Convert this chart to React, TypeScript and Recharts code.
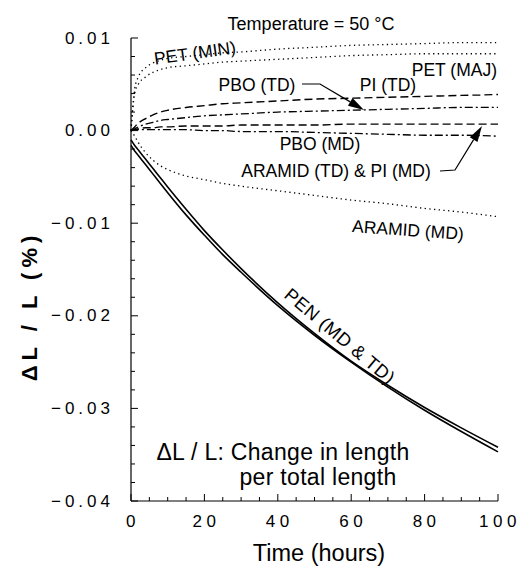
import { LineChart, Line, XAxis, YAxis } from 'recharts'

const hours = [0, 1, 2, 4, 6, 8, 10, 15, 20, 25, 30, 40, 50, 60, 70, 80, 90, 100]

const petMin = [0, 0.0045, 0.0058, 0.0068, 0.0073, 0.0076, 0.0078, 0.008, 0.0082, 0.0084, 0.0085, 0.0088, 0.009, 0.0092, 0.0093, 0.0094, 0.0095, 0.0095]
const petMaj = [0, 0.004, 0.005, 0.0058, 0.0063, 0.0066, 0.0068, 0.007, 0.0072, 0.0074, 0.0075, 0.0077, 0.0079, 0.0081, 0.0082, 0.0083, 0.0083, 0.0083]
const piTD = [0, 0.0004, 0.0008, 0.0013, 0.0017, 0.002, 0.0022, 0.0025, 0.0027, 0.0029, 0.003, 0.0032, 0.0034, 0.0035, 0.0036, 0.0037, 0.0038, 0.0039]
const pboTD = [0, 0.0002, 0.0004, 0.0007, 0.0009, 0.0011, 0.0012, 0.0014, 0.0016, 0.0017, 0.0018, 0.002, 0.0021, 0.0022, 0.0023, 0.0024, 0.0025, 0.0025]
const aramidTDpiMD = [0, 0.0001, 0.0002, 0.0003, 0.0003, 0.0004, 0.0004, 0.0005, 0.0005, 0.0005, 0.0006, 0.0006, 0.0006, 0.0007, 0.0007, 0.0007, 0.0007, 0.0007]
const pboMD = [0, 0.0001, 0.0001, 0.0001, 0.0001, 0.0001, 0.0001, 0.0001, 0, 0, -0.0001, -0.0001, -0.0002, -0.0003, -0.0004, -0.0005, -0.0005, -0.0006]
const aramidMD = [0, -0.0006, -0.0013, -0.0024, -0.0032, -0.0038, -0.0042, -0.0049, -0.0053, -0.0057, -0.006, -0.0065, -0.007, -0.0075, -0.0079, -0.0084, -0.0088, -0.0093]
const penMD = [-0.001, -0.0016, -0.0021, -0.0031, -0.0041, -0.0051, -0.0061, -0.0085, -0.0108, -0.0129, -0.0149, -0.0186, -0.0219, -0.0249, -0.0275, -0.0299, -0.0321, -0.0342]
const penTD = [-0.0016, -0.0022, -0.0027, -0.0037, -0.0047, -0.0057, -0.0067, -0.0091, -0.0113, -0.0134, -0.0153, -0.0189, -0.0221, -0.025, -0.0277, -0.0302, -0.0325, -0.0347]

const xMajor = [0, 20, 40, 60, 80, 100]
const xTicks = [0, 5, 10, 15, 20, 25, 30, 35, 40, 45, 50, 55, 60, 65, 70, 75, 80, 85, 90, 95, 100]
const yMajor = [0.01, 0, -0.01, -0.02, -0.03, -0.04]
const yLabels = ['0.01', '0.00', '\u22120.01', '\u22120.02', '\u22120.03', '\u22120.04']
const yTicks = [0.01, 0.008, 0.006, 0.004, 0.002, 0, -0.002, -0.004, -0.006, -0.008, -0.01, -0.012, -0.014, -0.016, -0.018, -0.02, -0.022, -0.024, -0.026, -0.028, -0.03, -0.032, -0.034, -0.036, -0.038, -0.04]

const data = hours.map((t, i) => ({
  t,
  petMin: petMin[i],
  petMaj: petMaj[i],
  piTD: piTD[i],
  pboTD: pboTD[i],
  aramidTDpiMD: aramidTDpiMD[i],
  pboMD: pboMD[i],
  aramidMD: aramidMD[i],
  penMD: penMD[i],
  penTD: penTD[i],
}))

const FONT = '"Liberation Sans", Arial, Helvetica, sans-serif'
const DOT = '1.3 3.4'
const DASH = '8 4'
const DASHDOT = '8 3 2 3'

function YTick({ x, y, payload }: any) {
  const i = yMajor.findIndex((v) => Math.abs(v - payload.value) < 1e-9)
  const major = i >= 0
  return (
    <g>
      <line x1={x} y1={y} x2={x + (major ? 7 : 4)} y2={y} stroke="#000" strokeWidth={1} />
      {major && (
        <text x={x - 17} y={y} textAnchor="end" dominantBaseline="central" fontSize={17} letterSpacing={4} fontFamily={FONT} fill="#000">
          {yLabels[i]}
        </text>
      )}
    </g>
  )
}

function XTick({ x, y, payload }: any) {
  const major = xMajor.includes(payload.value)
  return (
    <g>
      <line x1={x} y1={y} x2={x} y2={y - (major ? 7 : 4)} stroke="#000" strokeWidth={1} />
      {major && (
        <text x={x + 2} y={y + 20} textAnchor="middle" dominantBaseline="central" fontSize={17} letterSpacing={4.5} fontFamily={FONT} fill="#000">
          {payload.value}
        </text>
      )}
    </g>
  )
}

function Arrow({ pts, tip }: { pts: [number, number][]; tip: [number, number] }) {
  const last = pts[pts.length - 1]
  const dx = tip[0] - last[0]
  const dy = tip[1] - last[1]
  const len = Math.hypot(dx, dy)
  const ux = dx / len
  const uy = dy / len
  const bx = tip[0] - ux * 16
  const by = tip[1] - uy * 16
  const px = -uy * 4.5
  const py = ux * 4.5
  const path = [...pts, [bx, by]].map((p, i) => `${i ? 'L' : 'M'}${p[0]},${p[1]}`).join(' ')
  return (
    <g>
      <path d={path} fill="none" stroke="#000" strokeWidth={1.2} />
      <polygon points={`${tip[0]},${tip[1]} ${bx + px},${by + py} ${bx - px},${by - py}`} fill="#000" />
    </g>
  )
}

export default function App() {
  const txt = { fontFamily: FONT, fill: '#000' }
  return (
    <div style={{ position: 'absolute', left: 0, top: 0, width: 520, height: 567, background: '#fff' }}>
      <LineChart width={520} height={567} data={data} margin={{ top: 38, right: 22, left: 0, bottom: 0 }}>
        <XAxis
          dataKey="t"
          type="number"
          domain={[0, 100]}
          ticks={xTicks}
          interval={0}
          height={66}
          tickSize={0}
          tickMargin={0}
          tickLine={false}
          tick={<XTick />}
          axisLine={{ stroke: '#000', strokeWidth: 1.2 }}
        />
        <XAxis xAxisId="top" orientation="top" dataKey="t" type="number" domain={[0, 100]} height={0} tick={false} tickLine={false} axisLine={{ stroke: '#000', strokeWidth: 1.2 }} />
        <YAxis
          type="number"
          domain={[-0.04, 0.01]}
          ticks={yTicks}
          interval={0}
          width={131}
          tickSize={0}
          tickMargin={0}
          tickLine={false}
          tick={<YTick />}
          axisLine={{ stroke: '#000', strokeWidth: 1.2 }}
        />
        <YAxis yAxisId="right" orientation="right" type="number" domain={[-0.04, 0.01]} width={0} tick={false} tickLine={false} axisLine={{ stroke: '#000', strokeWidth: 1.2 }} />
        <Line dataKey="petMin" type="monotone" stroke="#000" strokeWidth={1.3} strokeDasharray={DOT} dot={false} isAnimationActive={false} />
        <Line dataKey="petMaj" type="monotone" stroke="#000" strokeWidth={1.3} strokeDasharray={DOT} dot={false} isAnimationActive={false} />
        <Line dataKey="piTD" type="monotone" stroke="#000" strokeWidth={1.4} strokeDasharray={DASH} dot={false} isAnimationActive={false} />
        <Line dataKey="pboTD" type="monotone" stroke="#000" strokeWidth={1.3} strokeDasharray={DASHDOT} dot={false} isAnimationActive={false} />
        <Line dataKey="aramidTDpiMD" type="monotone" stroke="#000" strokeWidth={1.4} strokeDasharray={DASH} dot={false} isAnimationActive={false} />
        <Line dataKey="pboMD" type="monotone" stroke="#000" strokeWidth={1.3} strokeDasharray={DASHDOT} dot={false} isAnimationActive={false} />
        <Line dataKey="aramidMD" type="monotone" stroke="#000" strokeWidth={1.3} strokeDasharray={DOT} dot={false} isAnimationActive={false} />
        <Line dataKey="penMD" type="monotone" stroke="#000" strokeWidth={1.6} dot={false} isAnimationActive={false} />
        <Line dataKey="penTD" type="monotone" stroke="#000" strokeWidth={1.6} dot={false} isAnimationActive={false} />
      </LineChart>
      <svg width={520} height={567} style={{ position: 'absolute', left: 0, top: 0, pointerEvents: 'none' }}>
        <text x={311} y={24} textAnchor="middle" dominantBaseline="central" fontSize={18} {...txt}>
          Temperature = 50 °C
        </text>
        <text x={29} y={306} textAnchor="middle" dominantBaseline="central" fontSize={22} fontWeight="bold" letterSpacing={5} transform="rotate(-90 29 306)" {...txt}>
          ΔL / L (%)
        </text>
        <text x={319} y={553} textAnchor="middle" dominantBaseline="central" fontSize={23.5} {...txt}>
          Time (hours)
        </text>
        <text x={195} y={53} textAnchor="middle" dominantBaseline="central" fontSize={17.5} transform="rotate(-8 195 53)" {...txt}>
          PET (MIN)
        </text>
        <text x={497} y={70} textAnchor="end" dominantBaseline="central" fontSize={17.5} {...txt}>
          PET (MAJ)
        </text>
        <text x={257} y={85} textAnchor="middle" dominantBaseline="central" fontSize={17.5} {...txt}>
          PBO (TD)
        </text>
        <text x={388} y={85} textAnchor="middle" dominantBaseline="central" fontSize={17.5} {...txt}>
          PI (TD)
        </text>
        <text x={320} y={144} textAnchor="middle" dominantBaseline="central" fontSize={17.5} {...txt}>
          PBO (MD)
        </text>
        <text x={336} y={171} textAnchor="middle" dominantBaseline="central" fontSize={17.5} {...txt}>
          ARAMID (TD) &amp; PI (MD)
        </text>
        <text x={408} y={230} textAnchor="middle" dominantBaseline="central" fontSize={17.5} transform="rotate(4 408 230)" {...txt}>
          ARAMID (MD)
        </text>
        <text x={340} y={336} textAnchor="middle" dominantBaseline="central" fontSize={18.5} letterSpacing={0.5} transform="rotate(40 340 336)" {...txt}>
          PEN (MD &amp; TD)
        </text>
        <text x={283} y={452} textAnchor="middle" dominantBaseline="central" fontSize={23} letterSpacing={0.3} {...txt}>
          ΔL / L: Change in length
        </text>
        <text x={318} y={477} textAnchor="middle" dominantBaseline="central" fontSize={23} letterSpacing={0.3} {...txt}>
          per total length
        </text>
        <Arrow pts={[[302, 84], [320, 84]]} tip={[364, 110]} />
        <Arrow pts={[[440, 171], [455, 170]]} tip={[482, 126]} />
      </svg>
    </div>
  )
}
